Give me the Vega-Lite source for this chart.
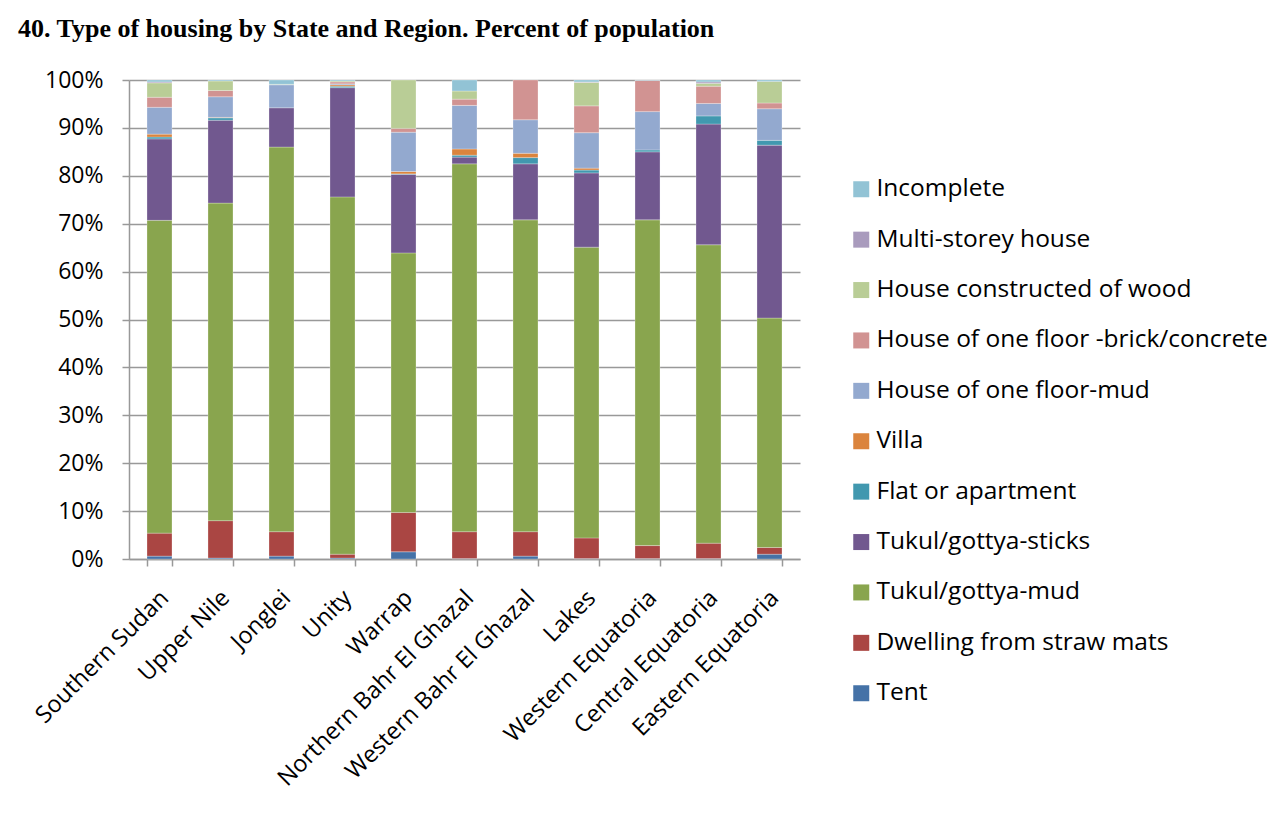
{
  "$schema": "https://vega.github.io/schema/vega-lite/v6.json",
  "autosize": "none",
  "width": 671,
  "height": 479,
  "padding": {"left": 129, "top": 80, "right": 478, "bottom": 268},
  "background": "white",
  "title": {
    "text": "40. Type of housing by State and Region. Percent of population",
    "anchor": "start",
    "frame": "group",
    "font": "Liberation Serif",
    "fontSize": 26,
    "fontWeight": "bold",
    "color": "#000000",
    "dx": -111,
    "dy": 3,
    "offset": 30
  },
  "datasets": {
    "types": [
      {"t": "Tent", "rank": 1},
      {"t": "Dwelling from straw  mats", "rank": 2},
      {"t": "Tukul/gottya-mud", "rank": 3},
      {"t": "Tukul/gottya-sticks", "rank": 4},
      {"t": "Flat or apartment", "rank": 5},
      {"t": "Villa", "rank": 6},
      {"t": "House of one floor-mud", "rank": 7},
      {"t": "House of one floor -brick/concrete", "rank": 8},
      {"t": "House constructed of wood", "rank": 9},
      {"t": "Multi-storey house", "rank": 10},
      {"t": "Incomplete", "rank": 11}
    ]
  },
  "data": {
    "values": [
      {"s": "Southern Sudan", "t": "Tent", "v": 0.6},
      {"s": "Southern Sudan", "t": "Dwelling from straw  mats", "v": 4.8},
      {"s": "Southern Sudan", "t": "Tukul/gottya-mud", "v": 65.3},
      {"s": "Southern Sudan", "t": "Tukul/gottya-sticks", "v": 17.0},
      {"s": "Southern Sudan", "t": "Flat or apartment", "v": 0.4},
      {"s": "Southern Sudan", "t": "Villa", "v": 0.6},
      {"s": "Southern Sudan", "t": "House of one floor-mud", "v": 5.6},
      {"s": "Southern Sudan", "t": "House of one floor -brick/concrete", "v": 2.1},
      {"s": "Southern Sudan", "t": "House constructed of wood", "v": 3.0},
      {"s": "Southern Sudan", "t": "Multi-storey house", "v": 0.2},
      {"s": "Southern Sudan", "t": "Incomplete", "v": 0.4},

      {"s": "Upper Nile", "t": "Tent", "v": 0.2},
      {"s": "Upper Nile", "t": "Dwelling from straw  mats", "v": 7.8},
      {"s": "Upper Nile", "t": "Tukul/gottya-mud", "v": 66.3},
      {"s": "Upper Nile", "t": "Tukul/gottya-sticks", "v": 17.3},
      {"s": "Upper Nile", "t": "Flat or apartment", "v": 0.5},
      {"s": "Upper Nile", "t": "Villa", "v": 0.1},
      {"s": "Upper Nile", "t": "House of one floor-mud", "v": 4.3},
      {"s": "Upper Nile", "t": "House of one floor -brick/concrete", "v": 1.3},
      {"s": "Upper Nile", "t": "House constructed of wood", "v": 2.0},
      {"s": "Upper Nile", "t": "Incomplete", "v": 0.2},

      {"s": "Jonglei", "t": "Tent", "v": 0.6},
      {"s": "Jonglei", "t": "Dwelling from straw  mats", "v": 5.1},
      {"s": "Jonglei", "t": "Tukul/gottya-mud", "v": 80.3},
      {"s": "Jonglei", "t": "Tukul/gottya-sticks", "v": 8.2},
      {"s": "Jonglei", "t": "House of one floor-mud", "v": 4.8},
      {"s": "Jonglei", "t": "House constructed of wood", "v": 0.1},
      {"s": "Jonglei", "t": "Incomplete", "v": 0.9},

      {"s": "Unity", "t": "Tent", "v": 0.2},
      {"s": "Unity", "t": "Dwelling from straw  mats", "v": 0.8},
      {"s": "Unity", "t": "Tukul/gottya-mud", "v": 74.6},
      {"s": "Unity", "t": "Tukul/gottya-sticks", "v": 22.8},
      {"s": "Unity", "t": "Flat or apartment", "v": 0.3},
      {"s": "Unity", "t": "Villa", "v": 0.3},
      {"s": "Unity", "t": "House of one floor-mud", "v": 0.2},
      {"s": "Unity", "t": "House of one floor -brick/concrete", "v": 0.4},
      {"s": "Unity", "t": "House constructed of wood", "v": 0.2},
      {"s": "Unity", "t": "Incomplete", "v": 0.2},

      {"s": "Warrap", "t": "Tent", "v": 1.5},
      {"s": "Warrap", "t": "Dwelling from straw  mats", "v": 8.2},
      {"s": "Warrap", "t": "Tukul/gottya-mud", "v": 54.2},
      {"s": "Warrap", "t": "Tukul/gottya-sticks", "v": 16.4},
      {"s": "Warrap", "t": "Flat or apartment", "v": 0.1},
      {"s": "Warrap", "t": "Villa", "v": 0.5},
      {"s": "Warrap", "t": "House of one floor-mud", "v": 8.2},
      {"s": "Warrap", "t": "House of one floor -brick/concrete", "v": 0.8},
      {"s": "Warrap", "t": "House constructed of wood", "v": 10.1},

      {"s": "Northern Bahr El Ghazal", "t": "Tent", "v": 0.1},
      {"s": "Northern Bahr El Ghazal", "t": "Dwelling from straw  mats", "v": 5.6},
      {"s": "Northern Bahr El Ghazal", "t": "Tukul/gottya-mud", "v": 76.8},
      {"s": "Northern Bahr El Ghazal", "t": "Tukul/gottya-sticks", "v": 1.4},
      {"s": "Northern Bahr El Ghazal", "t": "Flat or apartment", "v": 0.4},
      {"s": "Northern Bahr El Ghazal", "t": "Villa", "v": 1.3},
      {"s": "Northern Bahr El Ghazal", "t": "House of one floor-mud", "v": 9.1},
      {"s": "Northern Bahr El Ghazal", "t": "House of one floor -brick/concrete", "v": 1.3},
      {"s": "Northern Bahr El Ghazal", "t": "House constructed of wood", "v": 1.7},
      {"s": "Northern Bahr El Ghazal", "t": "Incomplete", "v": 2.3},

      {"s": "Western Bahr El Ghazal", "t": "Tent", "v": 0.6},
      {"s": "Western Bahr El Ghazal", "t": "Dwelling from straw  mats", "v": 5.1},
      {"s": "Western Bahr El Ghazal", "t": "Tukul/gottya-mud", "v": 65.1},
      {"s": "Western Bahr El Ghazal", "t": "Tukul/gottya-sticks", "v": 11.7},
      {"s": "Western Bahr El Ghazal", "t": "Flat or apartment", "v": 1.3},
      {"s": "Western Bahr El Ghazal", "t": "Villa", "v": 0.9},
      {"s": "Western Bahr El Ghazal", "t": "House of one floor-mud", "v": 7.0},
      {"s": "Western Bahr El Ghazal", "t": "House of one floor -brick/concrete", "v": 8.3},

      {"s": "Lakes", "t": "Tent", "v": 0.1},
      {"s": "Lakes", "t": "Dwelling from straw  mats", "v": 4.3},
      {"s": "Lakes", "t": "Tukul/gottya-mud", "v": 60.7},
      {"s": "Lakes", "t": "Tukul/gottya-sticks", "v": 15.5},
      {"s": "Lakes", "t": "Flat or apartment", "v": 0.6},
      {"s": "Lakes", "t": "Villa", "v": 0.4},
      {"s": "Lakes", "t": "House of one floor-mud", "v": 7.4},
      {"s": "Lakes", "t": "House of one floor -brick/concrete", "v": 5.6},
      {"s": "Lakes", "t": "House constructed of wood", "v": 4.9},
      {"s": "Lakes", "t": "Multi-storey house", "v": 0.1},
      {"s": "Lakes", "t": "Incomplete", "v": 0.4},

      {"s": "Western Equatoria", "t": "Tent", "v": 0.1},
      {"s": "Western Equatoria", "t": "Dwelling from straw  mats", "v": 2.7},
      {"s": "Western Equatoria", "t": "Tukul/gottya-mud", "v": 68.0},
      {"s": "Western Equatoria", "t": "Tukul/gottya-sticks", "v": 14.2},
      {"s": "Western Equatoria", "t": "Flat or apartment", "v": 0.4},
      {"s": "Western Equatoria", "t": "House of one floor-mud", "v": 8.0},
      {"s": "Western Equatoria", "t": "House of one floor -brick/concrete", "v": 6.5},
      {"s": "Western Equatoria", "t": "Incomplete", "v": 0.1},

      {"s": "Central Equatoria", "t": "Tent", "v": 0.1},
      {"s": "Central Equatoria", "t": "Dwelling from straw  mats", "v": 3.2},
      {"s": "Central Equatoria", "t": "Tukul/gottya-mud", "v": 62.3},
      {"s": "Central Equatoria", "t": "Tukul/gottya-sticks", "v": 25.2},
      {"s": "Central Equatoria", "t": "Flat or apartment", "v": 1.7},
      {"s": "Central Equatoria", "t": "House of one floor-mud", "v": 2.6},
      {"s": "Central Equatoria", "t": "House of one floor -brick/concrete", "v": 3.6},
      {"s": "Central Equatoria", "t": "House constructed of wood", "v": 0.6},
      {"s": "Central Equatoria", "t": "Multi-storey house", "v": 0.3},
      {"s": "Central Equatoria", "t": "Incomplete", "v": 0.4},

      {"s": "Eastern Equatoria", "t": "Tent", "v": 1.0},
      {"s": "Eastern Equatoria", "t": "Dwelling from straw  mats", "v": 1.4},
      {"s": "Eastern Equatoria", "t": "Tukul/gottya-mud", "v": 47.9},
      {"s": "Eastern Equatoria", "t": "Tukul/gottya-sticks", "v": 36.1},
      {"s": "Eastern Equatoria", "t": "Flat or apartment", "v": 1.0},
      {"s": "Eastern Equatoria", "t": "House of one floor-mud", "v": 6.6},
      {"s": "Eastern Equatoria", "t": "House of one floor -brick/concrete", "v": 1.2},
      {"s": "Eastern Equatoria", "t": "House constructed of wood", "v": 4.5},
      {"s": "Eastern Equatoria", "t": "Incomplete", "v": 0.3}
    ]
  },
  "transform": [
    {"lookup": "t", "from": {"data": {"name": "types"}, "key": "t", "fields": ["rank"]}}
  ],
  "mark": {"type": "bar", "stroke": "#ffffff", "strokeWidth": 0.6, "strokeOpacity": 0.45},
  "encoding": {
    "x": {
      "field": "s",
      "type": "nominal",
      "sort": ["Southern Sudan", "Upper Nile", "Jonglei", "Unity", "Warrap", "Northern Bahr El Ghazal", "Western Bahr El Ghazal", "Lakes", "Western Equatoria", "Central Equatoria", "Eastern Equatoria"],
      "scale": {"paddingInner": 0.59, "paddingOuter": 0.295},
      "axis": {
        "title": null,
        "labelAngle": -45,
        "labelAlign": "right",
        "labelBaseline": "middle",
        "labelFont": "Open Sans",
        "labelFontSize": 23.5,
        "labelColor": "#000000",
        "labelPadding": 28,
        "labelOffset": 5,
        "labelLimit": 400,
        "tickBand": "extent",
        "tickSize": 7,
        "tickColor": "#999999",
        "tickWidth": 1.5,
        "domainColor": "#999999",
        "domainWidth": 1.5,
        "grid": false
      }
    },
    "y": {
      "field": "v",
      "type": "quantitative",
      "stack": "zero",
      "scale": {"domain": [0, 100], "nice": false},
      "axis": {
        "title": null,
        "values": [0, 10, 20, 30, 40, 50, 60, 70, 80, 90, 100],
        "labelExpr": "datum.value + '%'",
        "labelFont": "Open Sans",
        "labelFontSize": 23,
        "labelColor": "#000000",
        "labelPadding": 19,
        "tickSize": 7,
        "tickColor": "#999999",
        "tickWidth": 1.5,
        "domainColor": "#999999",
        "domainWidth": 1.5,
        "grid": true,
        "gridColor": "#999999",
        "gridWidth": 1.5
      }
    },
    "color": {
      "field": "t",
      "type": "nominal",
      "scale": {
        "domain": ["Incomplete", "Multi-storey house", "House constructed of wood", "House of one floor -brick/concrete", "House of one floor-mud", "Villa", "Flat or apartment", "Tukul/gottya-sticks", "Tukul/gottya-mud", "Dwelling from straw  mats", "Tent"],
        "range": ["#92C3D5", "#A99BBD", "#B9CD96", "#D19392", "#93A9CF", "#DB843D", "#4198AF", "#71588F", "#89A54E", "#AA4643", "#4572A7"]
      },
      "legend": {
        "title": null,
        "orient": "none",
        "legendX": 720,
        "legendY": 97,
        "symbolType": "square",
        "symbolSize": 256,
        "symbolStrokeWidth": 0,
        "labelFont": "Open Sans",
        "labelFontSize": 24.5,
        "labelColor": "#000000",
        "labelOffset": 3,
        "labelLimit": 500,
        "rowPadding": 25.4
      }
    },
    "order": {"field": "rank", "type": "quantitative", "sort": "ascending"}
  },
  "config": {
    "view": {"stroke": null}
  }
}
